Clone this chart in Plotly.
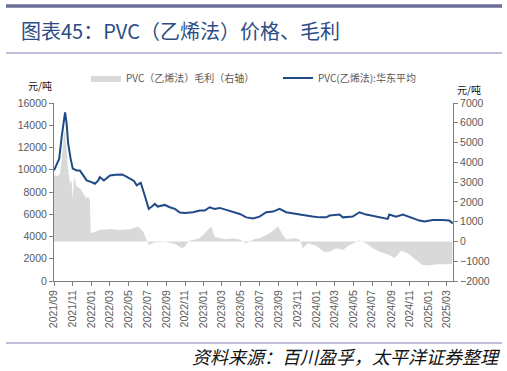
import plotly.graph_objects as go

# ---------------- data ----------------
price_dates = ["2021-09-01","2021-09-10","2021-09-18","2021-09-26","2021-10-01","2021-10-07","2021-10-12",
               "2021-10-17","2021-10-25","2021-11-01","2021-11-14","2021-11-24","2021-12-05","2021-12-16",
               "2022-01-01","2022-01-12","2022-01-23","2022-01-28","2022-02-10","2022-03-02","2022-03-21",
               "2022-04-10","2022-04-23","2022-05-06","2022-05-19","2022-05-28","2022-06-10","2022-06-23",
               "2022-07-06","2022-07-16","2022-07-26","2022-08-04","2022-08-27","2022-09-12","2022-09-29",
               "2022-10-15","2022-10-31","2022-11-27","2022-12-19","2023-01-04","2023-01-20","2023-02-05",
               "2023-02-22","2023-03-15","2023-04-06","2023-04-28","2023-05-19","2023-06-10","2023-07-01",
               "2023-07-23","2023-08-14","2023-09-04","2023-09-26","2023-10-23","2023-11-19","2023-12-21",
               "2024-01-12","2024-02-03","2024-02-14","2024-03-17","2024-03-28","2024-04-29","2024-05-21",
               "2024-06-12","2024-07-14","2024-08-21","2024-08-26","2024-09-17","2024-10-09","2024-11-05",
               "2024-12-02","2024-12-18","2025-01-14","2025-02-15","2025-03-09","2025-03-20"]
price_values = [9940,10550,11000,12960,14000,15150,14170,
                12360,11000,10100,9940,9940,9490,9040,
                8890,8740,9040,9340,9040,9490,9550,
                9580,9400,9190,9000,8590,8830,7680,
                6480,6700,6930,6690,6840,6630,6480,
                6150,6120,6180,6330,6330,6630,6480,
                6570,6390,6180,6030,5720,5630,5790,
                6180,6240,6480,6180,6030,5940,5790,
                5720,5720,5880,5970,5720,5790,6180,
                5970,5790,5580,5970,5790,5970,5720,
                5430,5360,5490,5490,5430,5180]

margin_dates = ["2021-09-01","2021-09-11","2021-09-20","2021-09-26","2021-10-03","2021-10-07","2021-10-12",
                "2021-10-17","2021-10-23","2021-10-28","2021-11-01","2021-11-05","2021-11-14","2021-11-24",
                "2021-12-05","2021-12-14","2021-12-21","2021-12-27","2021-12-29","2022-01-28","2022-03-02",
                "2022-04-03","2022-05-06","2022-06-01","2022-06-18","2022-06-28","2022-07-06","2022-07-26",
                "2022-08-27","2022-09-29","2022-10-22","2022-10-31","2022-11-15","2022-12-19","2023-01-04",
                "2023-01-25","2023-02-05","2023-02-22","2023-03-15","2023-04-06","2023-04-28","2023-05-19",
                "2023-06-10","2023-07-01","2023-08-03","2023-08-30","2023-09-15","2023-09-26","2023-10-23",
                "2023-11-08","2023-11-19","2023-12-05","2023-12-31","2024-01-27","2024-02-14","2024-03-06",
                "2024-03-28","2024-04-19","2024-05-21","2024-06-12","2024-07-03","2024-07-25","2024-08-26",
                "2024-09-12","2024-10-03","2024-10-25","2024-11-21","2024-12-12","2025-01-03","2025-01-25",
                "2025-02-15","2025-03-09","2025-03-19"]
margin_values = [3360,3300,3400,4120,5470,5600,4630,
                 3620,2940,3110,2100,3280,2770,2690,
                 2440,2180,2270,2100,410,580,630,
                 580,620,750,500,80,-180,-40,
                 -10,-130,-340,-260,40,160,410,
                 750,240,160,110,160,100,-110,
                 100,160,410,750,330,100,160,
                 100,-340,-90,-200,-520,-520,-340,
                 -430,-180,50,-90,-340,-520,-680,
                 -850,-470,-600,-940,-1190,-1220,-1150,
                 -1150,-1150,-1100]

price_name = "PVC(乙烯法):华东平均"
margin_name = "PVC（乙烯法）毛利（右轴）"
title_text = "图表45：PVC（乙烯法）价格、毛利"
source_text = "资料来源：百川盈孚，太平洋证券整理"
unit_text = "元/吨"

# ---------------- layout helpers (pixel -> paper) ----------------
W, H = 507, 371
L, R, T, B = 54, 54, 103, 90
PW, PH = W - L - R, H - T - B
def px(x):
    return (x - L) / PW
def py(y):
    return (H - B - y) / PH

FONT = "Noto Sans CJK SC, Liberation Sans, Arial, sans-serif"
NUMFONT = "Liberation Sans, Arial, sans-serif"
GRAY = "#595959"

fig = go.Figure()
fig.add_trace(go.Scatter(
    x=margin_dates, y=margin_values, name=margin_name, yaxis="y2",
    mode="lines", line=dict(width=0, color="#D9D9D9"), fill="tozeroy",
    fillcolor="#D9D9D9", hoverinfo="skip"))
fig.add_trace(go.Scatter(
    x=price_dates, y=price_values, name=price_name, yaxis="y",
    mode="lines", line=dict(width=2, color="#1F4A87")))

axis_common = dict(showgrid=False, zeroline=False, showline=True, linecolor="#7F7F7F",
                   linewidth=1, ticks="outside", ticklen=4, tickcolor="#7F7F7F",
                   automargin=False,
                   tickfont=dict(family=NUMFONT, size=10.5, color=GRAY))

fig.update_layout(
    width=W, height=H, margin=dict(l=L, r=R, t=T, b=B, autoexpand=False),
    paper_bgcolor="white", plot_bgcolor="white",
    xaxis=dict(type="date", range=["2021-09-01", "2025-03-21"], tick0="2021-09-01",
               dtick="M2", tickformat="%Y/%m", tickangle=-90, **axis_common),
    yaxis=dict(range=[0, 16000], dtick=2000, tickformat="d", **axis_common),
    yaxis2=dict(range=[-2000, 7000], dtick=1000, tickformat="d", overlaying="y", side="right",
                **axis_common),
    showlegend=True,
    legend=dict(orientation="h", x=px(86), y=py(78), xanchor="left", yanchor="middle",
                font=dict(family=FONT, size=10, color=GRAY), itemwidth=30,
                entrywidth=147, bgcolor="rgba(0,0,0,0)", tracegroupgap=0),
)

shapes = [
    dict(type="line", xref="paper", yref="paper", x0=px(6), x1=px(502), y0=py(6), y1=py(6),
         line=dict(color="#6B6F98", width=3.5)),
    dict(type="line", xref="paper", yref="paper", x0=px(6), x1=px(502), y0=py(53), y1=py(53),
         line=dict(color="#A9ABCB", width=1.5)),
    dict(type="line", xref="paper", yref="paper", x0=px(6), x1=px(502), y0=py(343), y1=py(343),
         line=dict(color="#A9ABCB", width=1.5)),
]
fig.update_layout(shapes=shapes)

fig.add_annotation(text=title_text, xref="paper", yref="paper", x=px(19), y=py(31),
                   xanchor="left", yanchor="middle", showarrow=False,
                   font=dict(family=FONT, size=20, color="#2C4C86"))
fig.add_annotation(text=source_text, xref="paper", yref="paper", x=px(503), y=py(356),
                   xanchor="right", yanchor="middle", showarrow=False,
                   font=dict(family=FONT, size=18, color="#111111", style="italic"))
fig.add_annotation(text=unit_text, xref="paper", yref="paper", x=px(40), y=py(85),
                   xanchor="center", yanchor="middle", showarrow=False,
                   font=dict(family=FONT, size=10, color="#111111"))
fig.add_annotation(text=unit_text, xref="paper", yref="paper", x=px(469), y=py(89),
                   xanchor="center", yanchor="middle", showarrow=False,
                   font=dict(family=FONT, size=10, color="#111111"))

fig.write_html("out.html", config={"displayModeBar": False},
               post_script="document.body.style.margin='0';")
